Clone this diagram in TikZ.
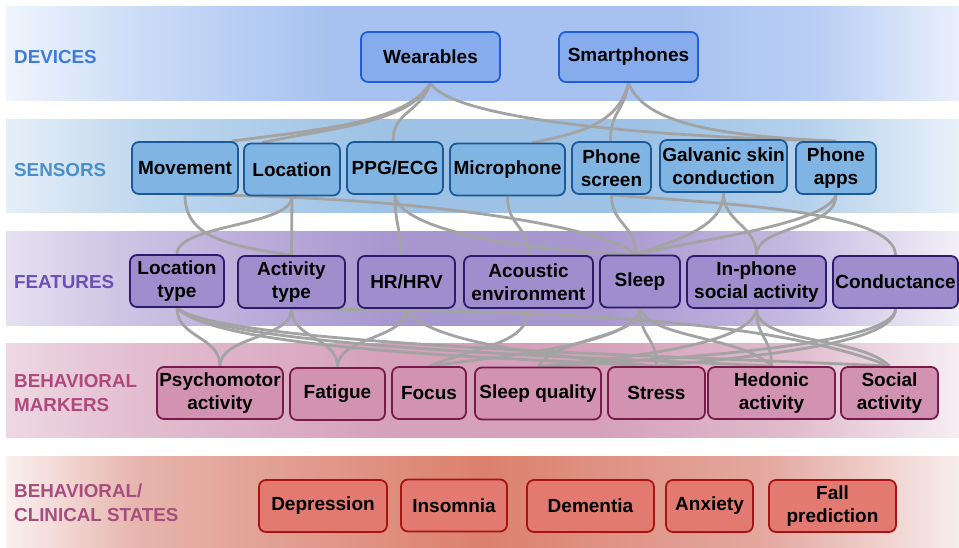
\documentclass[tikz,border=0pt]{standalone}
\usepackage{fontspec}
\setmainfont{Liberation Sans}
\usetikzlibrary{calc}
\pgfdeclarelayer{back}
\pgfdeclarelayer{mid}
\pgfsetlayers{back,mid,main}
% band colours
\definecolor{dv0}{HTML}{F0F5FD}\definecolor{dv1}{HTML}{CCDCF7}\definecolor{dv2}{HTML}{A7C1F0}\definecolor{dv3}{HTML}{BCD0F4}\definecolor{dv4}{HTML}{E9F0FB}
\definecolor{se0}{HTML}{E6EFF8}\definecolor{se1}{HTML}{C0D8EE}\definecolor{se2}{HTML}{9DC2E5}\definecolor{se3}{HTML}{B5D1EC}\definecolor{se4}{HTML}{E9F1F9}
\definecolor{fe0}{HTML}{E6E1F1}\definecolor{fe1}{HTML}{CAC0E3}\definecolor{fe2}{HTML}{A797CF}\definecolor{fe3}{HTML}{C3B9E0}\definecolor{fe4}{HTML}{F2F0F8}
\definecolor{ma0}{HTML}{EED8E3}\definecolor{ma1}{HTML}{E2BDD0}\definecolor{ma2}{HTML}{D6A1BB}\definecolor{ma3}{HTML}{E0BACD}\definecolor{ma4}{HTML}{F6EEF2}
\definecolor{st0}{HTML}{FAF1F0}\definecolor{st1}{HTML}{E6B4AC}\definecolor{st2}{HTML}{DC806D}\definecolor{st3}{HTML}{E4A9A1}\definecolor{st4}{HTML}{F7EDEC}
% node colours
\definecolor{devfill}{HTML}{86ACEE}\definecolor{devdraw}{HTML}{1E5FD8}
\definecolor{senfill}{HTML}{80B4E2}\definecolor{sendraw}{HTML}{1A5A9A}
\definecolor{feafill}{HTML}{9F8ECD}\definecolor{feadraw}{HTML}{2D1B6E}
\definecolor{marfill}{HTML}{D293B3}\definecolor{mardraw}{HTML}{7A1A4A}
\definecolor{stafill}{HTML}{E27A72}\definecolor{stadraw}{HTML}{A81414}
\definecolor{devlab}{HTML}{3E7BDA}\definecolor{senlab}{HTML}{4A8FCC}\definecolor{fealab}{HTML}{6A4FB4}
\definecolor{marlab}{HTML}{B0487C}\definecolor{stalab}{HTML}{A64E7E}
\definecolor{conncol}{HTML}{A3A3A3}
\pgfdeclarehorizontalshading{devband}{100bp}{color(0bp)=(dv0); color(25bp)=(dv0); color(32bp)=(dv1); color(42bp)=(dv2); color(60bp)=(dv2); color(68bp)=(dv3); color(75bp)=(dv4); color(100bp)=(dv4)}
\pgfdeclarehorizontalshading{senband}{100bp}{color(0bp)=(se0); color(25bp)=(se0); color(32bp)=(se1); color(45bp)=(se2); color(58bp)=(se2); color(67bp)=(se3); color(75bp)=(se4); color(100bp)=(se4)}
\pgfdeclarehorizontalshading{feaband}{100bp}{color(0bp)=(fe0); color(25bp)=(fe0); color(32bp)=(fe1); color(45bp)=(fe2); color(56bp)=(fe2); color(66bp)=(fe3); color(75bp)=(fe4); color(100bp)=(fe4)}
\pgfdeclarehorizontalshading{marband}{100bp}{color(0bp)=(ma0); color(25bp)=(ma0); color(32bp)=(ma1); color(45bp)=(ma2); color(56bp)=(ma2); color(66bp)=(ma3); color(75bp)=(ma4); color(100bp)=(ma4)}
\pgfdeclarehorizontalshading{staband}{100bp}{color(0bp)=(st0); color(25bp)=(st0); color(32bp)=(st1); color(50bp)=(st2); color(65bp)=(st3); color(75bp)=(st4); color(100bp)=(st4)}
\tikzset{
  box/.style={rounded corners=7pt, line width=1.8pt, inner sep=0pt, align=center,
    font=\bfseries\fontsize{19}{23.5}\selectfont},
  devbox/.style={box, fill=devfill, draw=devdraw, minimum height=50pt},
  senbox/.style={box, fill=senfill, draw=sendraw, minimum height=52pt},
  feabox/.style={box, fill=feafill, draw=feadraw, minimum height=52pt},
  marbox/.style={box, fill=marfill, draw=mardraw, minimum height=52pt},
  stabox/.style={box, fill=stafill, draw=stadraw, minimum height=52pt},
  lab/.style={anchor=west, align=left, inner sep=0pt, font=\bfseries\fontsize{18.8}{24}\selectfont},
  conn/.style={draw=conncol, line width=2.8pt}
}
\begin{document}
\begin{tikzpicture}[x=1pt, y=-1pt]
\useasboundingbox (0,0) rectangle (959,548);
\begin{pgfonlayer}{back}
  \fill[white] (0,0) rectangle (959,548);
  \fill[shading=devband] (6,7) rectangle (959,101);
  \fill[shading=senband] (6,120) rectangle (959,213);
  \fill[shading=feaband] (6,232) rectangle (959,325);
  \fill[shading=marband] (6,343) rectangle (959,437);
  \fill[shading=staband] (6,456) rectangle (959,548);
\end{pgfonlayer}
% layer labels
\node[lab, text=devlab] (ldev) at (14,57) {DEVICES};
\node[lab, text=senlab] (lsen) at (14,170) {SENSORS};
\node[lab, text=fealab] (lfea) at (14,282) {FEATURES};
\node[lab, text=marlab] (lmar) at (14,393) {BEHAVIORAL\\MARKERS};
\node[lab, text=stalab] (lsta) at (14,503) {BEHAVIORAL/\\CLINICAL STATES};
% devices
\node[devbox, minimum width=139pt] (wear) at (430.5,57) {Wearables};
\node[devbox, minimum width=139pt] (smart) at (628.5,57) {Smartphones};
% sensors
\node[senbox, minimum width=106pt] (mov) at (185,168) {Movement};
\node[senbox, minimum width=96pt] (loc) at (292,169.5) {Location};
\node[senbox, minimum width=96pt] (ppg) at (395,168) {PPG/ECG};
\node[senbox, minimum width=115pt] (mic) at (507.5,169.5) {Microphone};
\node[senbox, minimum width=79pt] (scr) at (611.5,168) {Phone\\screen};
\node[senbox, minimum width=127pt] (gal) at (723.5,166) {Galvanic skin\\conduction};
\node[senbox, minimum width=80pt] (app) at (836,168) {Phone\\apps};
% features
\node[feabox, minimum width=94pt] (ltype) at (177,281) {Location\\type};
\node[feabox, minimum width=107pt] (atype) at (291.5,282) {Activity\\type};
\node[feabox, minimum width=97pt] (hr) at (406.5,282) {HR/HRV};
\node[feabox, minimum width=129pt] (acou) at (528.5,282) {Acoustic\\environment};
\node[feabox, minimum width=80pt] (sleep) at (640,281.5) {Sleep};
\node[feabox, minimum width=139pt] (inph) at (756.5,282) {In-phone\\social activity};
\node[feabox, minimum width=125pt] (cond) at (895.5,282) {Conductance};
% behavioral markers
\node[marbox, minimum width=126pt] (psy) at (220,393) {Psychomotor\\activity};
\node[marbox, minimum width=95pt] (fat) at (337.5,394) {Fatigue};
\node[marbox, minimum width=74pt] (foc) at (429,393) {Focus};
\node[marbox, minimum width=126pt] (sq) at (538,393.5) {Sleep quality};
\node[marbox, minimum width=97pt] (str) at (656.5,393) {Stress};
\node[marbox, minimum width=127pt] (hed) at (771.5,393) {Hedonic\\activity};
\node[marbox, minimum width=97pt] (soc) at (889.5,393) {Social\\activity};
% states
\node[stabox, minimum width=128pt] (dep) at (323,506) {Depression};
\node[stabox, minimum width=106pt] (ins) at (454,505.5) {Insomnia};
\node[stabox, minimum width=127pt] (dem) at (590.5,506) {Dementia};
\node[stabox, minimum width=87pt] (anx) at (709.5,506) {Anxiety};
\node[stabox, minimum width=127pt] (fall) at (832.5,506) {Fall\\prediction};
\begin{pgfonlayer}{mid}
% devices -> sensors
\draw[conn] (wear.south) .. controls +(-25,40) and +(90,-12) .. ([xshift=47]mov.north);
\draw[conn] (wear.south) .. controls +(-20,40) and +(70,-15) .. ([xshift=-30]loc.north);
\draw[conn] (wear.south) .. controls +(-10,30) and +(0,-30) .. ([xshift=-2]ppg.north);
\draw[conn] (wear.south) .. controls +(20,35) and +(-200,-5) .. ([xshift=-3]app.north);
\draw[conn] (smart.south) .. controls +(-10,40) and +(50,-10) .. ([xshift=25]mic.north);
\draw[conn] (smart.south) .. controls +(-5,30) and +(0,-30) .. ([xshift=-1]scr.north);
\draw[conn] (smart.south) .. controls +(15,40) and +(-120,-5) .. (app.north);
% sensors -> features
\draw[conn] (mov.south) .. controls +(0,40) and +(-70,-10) .. (atype.north);
\draw[conn] (loc.south) .. controls +(0,30) and +(0,-30) .. (ltype.north);
\draw[conn] (loc.south) -- (atype.north);
\draw[conn] (mov.south) .. controls +(200,0) and +(-40,-33) .. ([xshift=-4]sleep.north);
\draw[conn] (ppg.south) .. controls +(0,30) and +(0,-30) .. ([xshift=-6]hr.north);
\draw[conn] (ppg.south) .. controls +(5,35) and +(-120,-5) .. ([xshift=-4]sleep.north);
\draw[conn] (mic.south) .. controls +(0,30) and +(0,-30) .. (acou.north);
\draw[conn] (scr.south) .. controls +(0,30) and +(0,-30) .. ([xshift=-4]sleep.north);
\draw[conn] (scr.south) .. controls +(100,8) and +(0,-45) .. (cond.north);
\draw[conn] (gal.south) .. controls +(0,35) and +(40,-15) .. ([xshift=-4]sleep.north);
\draw[conn] (gal.south) .. controls +(0,30) and +(0,-30) .. (inph.north);
\draw[conn] (app.south) .. controls +(-10,30) and +(60,-15) .. ([xshift=-4]sleep.north);
\draw[conn] (app.south) .. controls +(0,35) and +(0,-30) .. (inph.north);
% features -> behavioral markers
\draw[conn] (ltype.south) .. controls +(0,30) and +(0,-30) .. (psy.north);
\draw[conn] (ltype.south) .. controls +(40,42) and +(-150,-8) .. (str.north);
\draw[conn] (ltype.south) .. controls +(42,40) and +(-180,-9) .. (hed.north);
\draw[conn] (ltype.south) .. controls +(44,38) and +(-200,-10) .. (soc.north);
\draw[conn] (atype.south) .. controls +(0,30) and +(0,-30) .. (psy.north);
\draw[conn] (atype.south) .. controls +(0,30) and +(0,-30) .. (fat.north);
\draw[conn] (atype.south) .. controls +(230,2) and +(-130,-51) .. (soc.north);
\draw[conn] (hr.south) .. controls +(0,30) and +(0,-30) .. (fat.north);
\draw[conn] (hr.south) .. controls +(20,35) and +(-100,-10) .. (str.north);
\draw[conn] (acou.south) .. controls +(0,35) and +(50,-20) .. (foc.north);
\draw[conn] (sleep.south) .. controls +(-5,35) and +(90,-12) .. (foc.north);
\draw[conn] (sleep.south) .. controls +(0,30) and +(20,-30) .. (sq.north);
\draw[conn] (sleep.south) .. controls +(0,30) and +(0,-30) .. (str.north);
\draw[conn] (sleep.south) .. controls +(10,30) and +(-30,-30) .. (hed.north);
\draw[conn] (inph.south) .. controls +(0,30) and +(0,-30) .. (hed.north);
\draw[conn] (inph.south) .. controls +(0,35) and +(-30,-30) .. (soc.north);
\draw[conn] (inph.south) .. controls +(-5,35) and +(100,-10) .. (sq.north);
\draw[conn] (cond.south) .. controls +(0,35) and +(100,-10) .. (str.north);
\draw[conn] (cond.south) .. controls +(0,35) and +(150,-8) .. (sq.north);
\end{pgfonlayer}
\end{tikzpicture}
\end{document}
